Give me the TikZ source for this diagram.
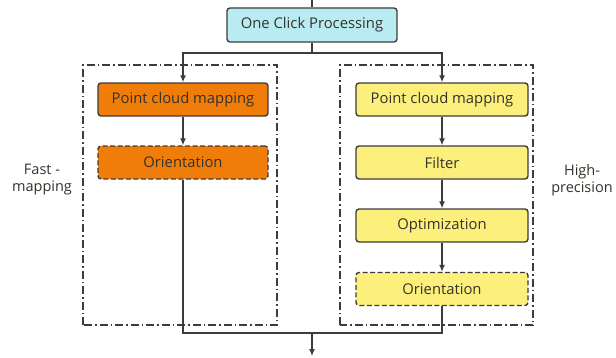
\documentclass[tikz,border=0pt]{standalone}
\usepackage{fontspec}
\setmainfont{Open Sans}
\usetikzlibrary{arrows.meta}
\definecolor{procCyan}{HTML}{B9ECF2}
\definecolor{procOrange}{HTML}{F07D0A}
\definecolor{procYellow}{HTML}{FCEF7C}
\definecolor{procLine}{HTML}{3C3C3C}
\definecolor{procText}{HTML}{33332A}

\begin{document}
\begin{tikzpicture}[x=1pt, y=1pt, line width=1.2pt, draw=procLine,
    box/.style={draw=procLine, line width=1.4pt, rounded corners=3pt, minimum height=33pt, font=\fontsize{14.8}{16}\selectfont, text=procText},
    leftbox/.style={box, fill=procOrange, minimum width=170pt},
    rightbox/.style={box, fill=procYellow, minimum width=172pt},
    optional/.style={dash pattern=on 5pt off 2.5pt},
    frame/.style={draw=procLine, line width=1.1pt, dash pattern=on 8pt off 3pt on 1.5pt off 3pt},
    sidelabel/.style={font=\fontsize{14.5}{17}\selectfont, text=procText, align=center},
    arr/.style={-{Latex[length=7pt,width=6pt]}, procLine}]
            \useasboundingbox (0,0) rectangle (616,357);
            % two dash-dot groups
            \draw[frame] (83,32) rectangle (277,292);
            \draw[frame] (340,32) rectangle (533,292);
            \node[sidelabel] (fastlbl) at (42,177) {Fast -\\mapping};
            \node[sidelabel] (preclbl) at (582,177) {High-\\precision};
            % boxes
            \node[box, fill=procCyan, minimum width=170pt, minimum height=34pt] (start) at (312,332) {One Click Processing};
            \node[leftbox] (mapL) at (183,257.5) {Point cloud mapping};
            \node[leftbox, optional] (orientL) at (183,194.5) {Orientation};
            \node[rightbox] (mapR) at (442,257.5) {Point cloud mapping};
            \node[rightbox] (filter) at (442,194.5) {Filter};
            \node[rightbox] (optim) at (442,131.5) {Optimization};
            \node[rightbox, optional] (orientR) at (442,68) {Orientation};
            % connectors
            \coordinate (top) at (312,357);
            \coordinate (split) at (312,304);
            \coordinate (merge) at (312,24);
            \coordinate (out) at (312,1);
            \draw[procLine] (top) -- (start.north);
            \draw[procLine] (start.south) -- (split);
            \draw[arr] (split) -| (mapL.north);
            \draw[arr] (split) -| (mapR.north);
            \draw[arr] (mapL) -- (orientL);
            \draw[arr] (mapR) -- (filter);
            \draw[arr] (filter) -- (optim);
            \draw[arr] (optim) -- (orientR);
            \draw[procLine] (orientL.south) |- (merge);
            \draw[procLine] (orientR.south) |- (merge);
            \draw[arr] (merge) -- (out);
        \end{tikzpicture}
\end{document}
